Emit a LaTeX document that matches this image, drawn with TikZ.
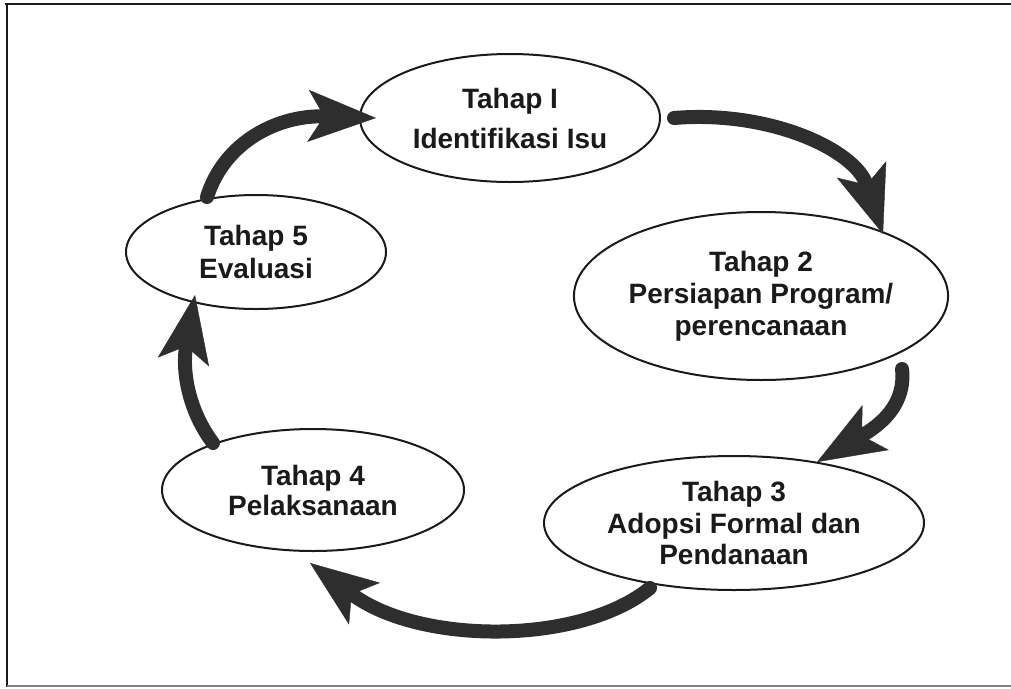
\documentclass[tikz,border=0pt]{standalone}
\usepackage{fontspec}
\setmainfont{Liberation Sans}
\usetikzlibrary{arrows.meta,shapes.geometric,calc}
\definecolor{arrowgray}{HTML}{2E2E2E}
\definecolor{inkblack}{HTML}{1A1A1A}
\begin{document}
\begin{tikzpicture}[x=1pt,y=-1pt,
  stage/.style={ellipse, draw=inkblack, line width=2pt, fill=white, inner sep=0pt,
    align=center, text=inkblack, font=\fontsize{28}{32}\selectfont\bfseries},
  cyc/.style={draw=arrowgray, line width=14pt, line cap=round,
    -{Stealth[length=68pt,width=52pt,inset=16pt,line width=0.4pt]}},
  frameline/.style={inkblack, line width=2.5pt}
]
\useasboundingbox (0,0) rectangle (1011,688);
\fill[white] (0,0) rectangle (1011,688);
\draw[frameline] (5,4) -- (1011,4);
\draw[frameline, line width=2pt] (7,3) -- (7,687);
\draw[line width=1.2pt, gray] (7,686) -- (1011,686);

\node[stage, minimum width=300pt, minimum height=128pt, font=\fontsize{28}{40}\selectfont\bfseries] (t1) at (510,118) {Tahap I\\Identifikasi Isu};
\node[stage, minimum width=358pt, minimum height=168pt] (t2) at (761,296) {Tahap 2\\Persiapan Program/\\perencanaan};
\node[stage, minimum width=380pt, minimum height=134pt, font=\fontsize{28}{31.5}\selectfont\bfseries] (t3) at (734,523) {Tahap 3\\Adopsi Formal dan\\Pendanaan};
\node[stage, minimum width=302pt, minimum height=122pt, font=\fontsize{28}{30}\selectfont\bfseries] (t4) at (313,490) {Tahap 4\\Pelaksanaan};
\node[stage, minimum width=260pt, minimum height=114pt, font=\fontsize{28}{33}\selectfont\bfseries] (t5) at (256,252) {Tahap 5\\Evaluasi};

\draw[cyc] ($(t5.center)+(-49,-55)$) .. controls (225,140) and (280,115) .. ($(t1.west)+(17,0)$);
\draw[cyc] ($(t1.east)+(13,0)$) .. controls (770,110) and (855,150) .. ($(t2.center)+(122,-62)$);
\draw[cyc] ($(t2.center)+(141,73)$) .. controls (906,405) and (880,425) .. ($(t3.center)+(83,-61)$);
\draw[cyc] ($(t3.center)+(-84,65)$) .. controls (580,645) and (420,645) .. ($(t4.center)+(-3,73)$);
\draw[cyc] ($(t4.center)+(-100,-47)$) .. controls (188,410) and (182,370) .. ($(t5.center)+(-61,43)$);
\end{tikzpicture}
\end{document}
